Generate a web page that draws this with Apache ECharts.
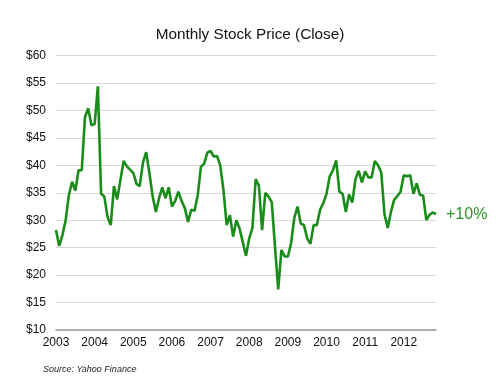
<!DOCTYPE html>
<html>
<head>
<meta charset="utf-8">
<script src="https://cdn.jsdelivr.net/npm/echarts@6/dist/echarts.min.js"></script>
<style>
html,body{margin:0;padding:0;background:#fff;}
#chart{width:500px;height:386px;}
</style>
</head>
<body>
<div id="chart"></div>
<script>
// Data
var years = ['2003','2004','2005','2006','2007','2008','2009','2010','2011','2012'];
var monthCount = 119; // Jan 2003 .. Nov 2012
var prices = [
  // 2003
  28.2, 25.3, 27.3, 30.0, 34.6, 37.0, 35.4, 39.1, 39.1, 48.8, 50.4, 47.3,
  // 2004
  47.5, 54.4, 34.8, 34.3, 30.6, 29.1, 36.2, 33.8, 37.3, 40.8, 39.8, 39.2,
  // 2005
  38.6, 36.6, 36.2, 40.5, 42.4, 38.6, 34.4, 31.5, 34.0, 36.0, 34.0, 36.0,
  // 2006
  32.5, 33.5, 35.2, 33.5, 32.2, 29.7, 31.9, 31.7, 34.5, 39.7, 40.3, 42.3,
  // 2007
  42.6, 41.6, 41.7, 40.0, 35.5, 29.1, 30.9, 27.0, 30.0, 28.5, 26.0, 23.5,
  // 2008
  26.7, 28.6, 37.5, 36.3, 28.2, 35.0, 34.3, 33.3, 25.2, 17.4, 24.6, 23.4,
  // 2009
  23.4, 25.8, 30.4, 32.5, 29.4, 29.1, 26.7, 25.7, 29.1, 29.1, 31.9, 33.1,
  // 2010
  34.8, 38.0, 39.1, 40.9, 35.2, 34.8, 31.5, 34.7, 33.2, 37.5, 39.0, 36.9,
  // 2011
  38.9, 37.8, 37.8, 40.8, 40.0, 38.7, 31.1, 28.6, 31.5, 33.7, 34.4, 35.2,
  // 2012
  38.2, 38.0, 38.2, 34.8, 36.7, 34.6, 34.5, 30.0, 31.0, 31.4, 31.1
];
var yTicks = [10, 15, 20, 25, 30, 35, 40, 45, 50, 55, 60];

var months = [];
for (var y = 0; y < years.length; y++) {
  for (var m = 1; m <= 12; m++) {
    if (months.length < monthCount) months.push(years[y] + '-' + (m < 10 ? '0' + m : m));
  }
}
var changePct = Math.round((prices[prices.length - 1] / prices[0] - 1) * 100);

var chart = echarts.init(document.getElementById('chart'), null, {renderer: 'canvas'});
var font = '"Liberation Sans", Arial, Helvetica, sans-serif';
chart.setOption({
  animation: false,
  backgroundColor: '#ffffff',
  title: {
    text: 'Monthly Stock Price (Close)',
    left: 'center', top: 22,
    textStyle: {fontFamily: font, fontSize: 15.3, fontWeight: 'normal', color: '#111'}
  },
  graphic: [{
    type: 'text', left: 43, top: 365,
    style: {text: 'Source: Yahoo Finance', font: 'italic 9px ' + font, fill: '#222'}
  }],
  grid: {left: 56, right: 64, top: 55.5, bottom: 56, containLabel: false},
  xAxis: {
    type: 'category',
    data: months,
    boundaryGap: false,
    axisLine: {show: true, lineStyle: {color: '#9a9a9a', width: 1.5}},
    axisTick: {show: false},
    splitLine: {show: false},
    axisLabel: {
      interval: function (idx) { return idx % 12 === 0; },
      formatter: function (v) { return v.slice(0, 4); },
      fontFamily: font, fontSize: 12, color: '#111', margin: 7
    }
  },
  yAxis: {
    type: 'value',
    min: yTicks[0], max: yTicks[yTicks.length - 1], interval: 5,
    axisLine: {show: false},
    axisTick: {show: false},
    splitLine: {lineStyle: {color: '#d8d8d8', width: 1.2}},
    axisLabel: {
      formatter: function (v) { return '$' + v; },
      fontFamily: font, fontSize: 12, color: '#111', margin: 10
    }
  },
  series: [{
    type: 'line',
    data: prices,
    symbol: 'none',
    lineStyle: {color: '#1a8c1a', width: 2.6},
    endLabel: {
      show: true,
      formatter: function () { return '+' + changePct + '%'; },
      fontFamily: font, fontSize: 16, color: '#2a972a', distance: 10
    }
  }]
});
</script>
</body>
</html>
